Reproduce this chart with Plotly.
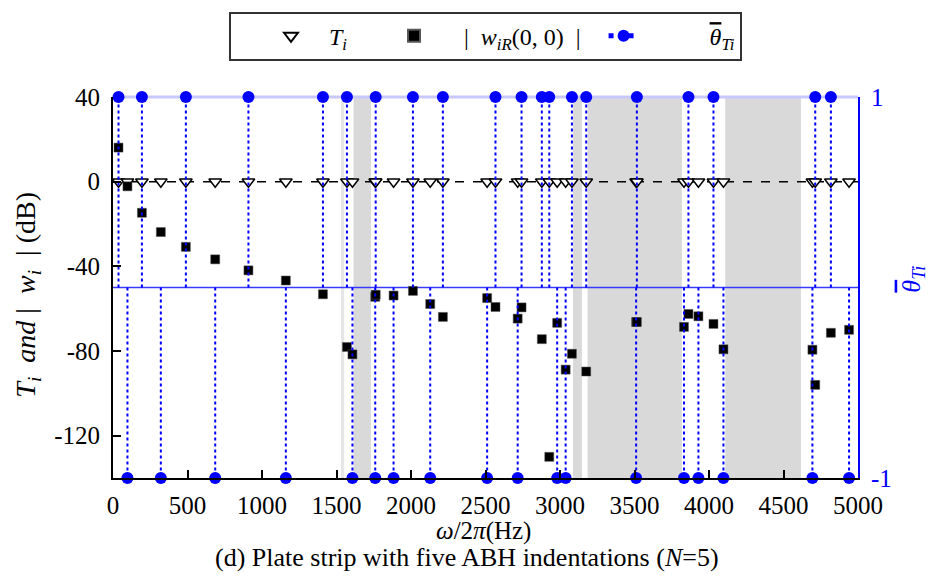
import plotly.graph_objects as go

# ---- data ----
freq_hz = [37, 97, 194, 321, 489, 686, 909, 1160, 1409, 1570, 1607, 1760, 1763, 1883,
           2013, 2129, 2214, 2511, 2567, 2716, 2742, 2878, 2928, 2981, 3038, 3080, 3176,
           3511, 3516, 3832, 3862, 3929, 4030, 4097, 4694, 4713, 4818, 4940]
theta_bar = [1, -1, 1, -1, 1, -1, 1, -1, 1, 1, -1, -1, 1, -1,
             1, -1, 1, -1, 1, -1, 1, 1, 1, -1, -1, 1, 1,
             -1, 1, -1, 1, -1, 1, -1, -1, 1, 1, -1]
w_db = [16.1, -2.2, -14.7, -23.8, -30.8, -36.7, -41.9, -46.7, -53.2, -78.1, -81.6, -54.4, -53.4, -53.8,
        -51.6, -57.8, -63.9, -55.0, -59.2, -64.7, -59.4, -74.4, -130.0, -66.7, -88.8, -81.3, -89.7,
        -66.3, -66.3, -68.6, -62.5, -63.6, -67.2, -79.2, -79.4, -96.0, -71.4, -70.0]
t_db = [0, 0, 0, 0, 0, 0, 0, 0, 0, 0, 0, 0, 0, 0,
        0, 0, 0, 0, 0, 0, 0, 0, 0, 0, 0, 0, 0,
        0, 0, 0, 0, 0, 0, 0, 0, 0, 0, 0]
# shaded frequency bands (Hz)
band_start = [1614, 3087, 3185, 4109]
band_end = [1731, 3147, 3818, 4617]
light_band_start = [1530]
light_band_end = [1552]
x_ticks = [0, 500, 1000, 1500, 2000, 2500, 3000, 3500, 4000, 4500, 5000]
x_tick_text = ["0", "500", "1000", "1500", "2000", "2500", "3000", "3500", "4000", "4500", "5000"]
y_ticks = [-120, -80, -40, 0, 40]
y_tick_text = ["-120", "-80", "-40", "0", "40"]
y2_ticks = [-1, 1]
y2_tick_text = ["-1", "1"]

FONT = "Liberation Serif"
BLUE = "#0000ff"
NB = "\u00a0"
THETA_BAR = "<span style='text-decoration:overline'><i>θ</i></span><sub><i>Ti</i></sub>"

fig = go.Figure()

fig.add_trace(go.Scatter(
    x=freq_hz, y=t_db, mode="markers",
    name=NB * 3 + "<i>T<sub>i</sub></i>" + NB * 7,
    marker=dict(symbol="triangle-down", size=11, color="white",
                line=dict(color="black", width=1.5)),
))
fig.add_trace(go.Scatter(
    x=freq_hz, y=w_db, mode="markers",
    name=NB * 5 + "|" + NB * 2 + "<i>w<sub>iR</sub></i>(0, 0)" + NB * 2 + "|" + NB * 3,
    marker=dict(symbol="square", size=9, color="black",
                line=dict(color="#555", width=0.5)),
))

# stems from theta=0 to +/-1
sx, sy, ss = [], [], []
for f, th in zip(freq_hz, theta_bar):
    sx += [f, f, None]
    sy += [0, th, None]
    ss += [0, 12, 0]
fig.add_trace(go.Scatter(
    x=sx, y=sy, yaxis="y2", mode="lines+markers",
    name=NB * 11 + THETA_BAR,
    line=dict(color=BLUE, width=2, dash="dot"),
    marker=dict(size=ss, color=BLUE, opacity=1, line=dict(width=0)),
    opacity=1,
    cliponaxis=False,
))

shapes = []
for a, b in zip(band_start, band_end):
    shapes.append(dict(type="rect", xref="x", yref="paper", x0=a, x1=b, y0=0, y1=1,
                       fillcolor="#d9d9d9", line=dict(width=0), layer="below"))
for a, b in zip(light_band_start, light_band_end):
    shapes.append(dict(type="rect", xref="x", yref="paper", x0=a, x1=b, y0=0, y1=1,
                       fillcolor="#e6e6e6", line=dict(width=0), layer="below"))
# 0 dB dashed reference
shapes.append(dict(type="line", xref="paper", yref="y", x0=0, x1=1, y0=0, y1=0,
                   line=dict(color="black", width=1.5, dash="dash"), layer="below"))
# theta = 0 baseline
shapes.append(dict(type="line", xref="paper", yref="y2", x0=0, x1=1, y0=0, y1=0,
                   line=dict(color="#3a3aff", width=1.5), layer="below"))
# top border (pale blue)
shapes.append(dict(type="line", xref="paper", yref="paper", x0=0, x1=1, y0=1, y1=1,
                   line=dict(color="#c8c8ff", width=3), layer="below"))

annotations = [
    dict(text="<i>ω</i>/2<i>π</i>(Hz)", xref="paper", yref="paper", x=0.497, y=-0.14,
         xanchor="center", yanchor="middle", showarrow=False,
         font=dict(family=FONT, size=25, color="black")),
    dict(text="(d) Plate strip with five ABH indentations (<i>N</i>=5)", xref="paper", yref="paper",
         x=0.4755, y=-0.208, xanchor="center", yanchor="middle", showarrow=False,
         font=dict(family=FONT, size=26, color="black")),
    dict(text="<i>T<sub>i</sub></i>" + NB * 2 + "<i>and</i>" + NB + "|" + NB * 2 + "<i>w<sub>i</sub></i>"
              + NB * 2 + "|" + NB + "(dB)",
         xref="paper", yref="paper",
         x=-0.115, y=0.482, xanchor="center", yanchor="middle", textangle=-90, showarrow=False,
         font=dict(family=FONT, size=28, color="black")),
    dict(text=THETA_BAR,
         xref="paper", yref="paper",
         x=1.074, y=0.521, xanchor="center", yanchor="middle", textangle=-90, showarrow=False,
         font=dict(family=FONT, size=26, color=BLUE)),
]

fig.update_layout(
    width=932, height=584,
    margin=dict(l=113, r=74, t=94, b=106),
    paper_bgcolor="white", plot_bgcolor="white",
    font=dict(family=FONT, size=24, color="black"),
    showlegend=True,
    legend=dict(orientation="h", x=0.5, xanchor="center", y=1.224, yanchor="top",
                bordercolor="#333", borderwidth=2, bgcolor="white",
                font=dict(family=FONT, size=24), itemsizing="constant",
                title=dict(text=NB * 5, side="left", font=dict(family=FONT, size=24))),
    xaxis=dict(range=[0, 5000], tickvals=x_ticks, ticktext=x_tick_text, ticks="inside",
               ticklen=8, tickwidth=1.5, ticklabelstandoff=4,
               tickcolor="black", showline=True, linecolor="black", linewidth=2,
               showgrid=False, zeroline=False, tickfont=dict(family=FONT, size=25)),
    yaxis=dict(range=[-140, 40], tickvals=y_ticks, ticktext=y_tick_text, ticks="inside",
               ticklen=8, tickwidth=1.5, ticklabelstandoff=6,
               tickcolor="black", showline=True, linecolor="black", linewidth=2,
               showgrid=False, zeroline=False, tickfont=dict(family=FONT, size=25)),
    yaxis2=dict(range=[-1, 1], overlaying="y", side="right", tickvals=y2_ticks,
                ticktext=y2_tick_text, ticklabelstandoff=6,
                ticks="inside", ticklen=8, tickcolor=BLUE, tickwidth=2,
                showline=True, linecolor=BLUE, linewidth=2, showgrid=False, zeroline=False,
                tickfont=dict(family=FONT, size=25, color=BLUE)),
    shapes=shapes,
    annotations=annotations,
)

fig.write_html("out.html")
